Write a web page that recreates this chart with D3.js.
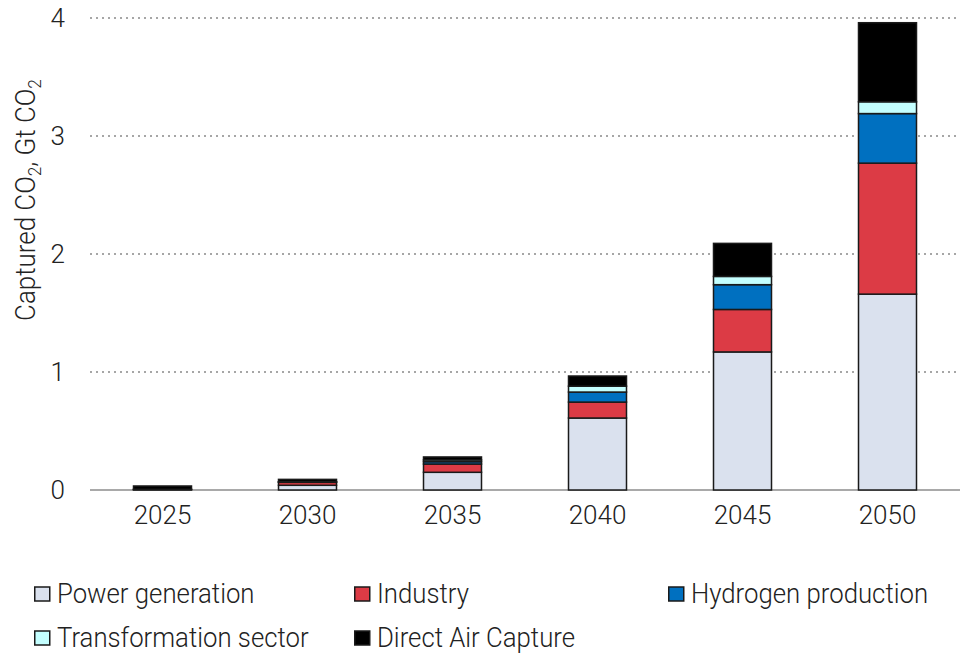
<!DOCTYPE html>
<html>
<head>
<meta charset="utf-8">
<script src="https://cdn.jsdelivr.net/npm/d3@7"></script>
<style>
  html, body { margin: 0; padding: 0; background: #fff; }
  svg text { font-family: Roboto, "Liberation Sans", sans-serif; font-weight: 300; fill: #222; }
</style>
</head>
<body>
<svg id="chart" width="960" height="655"></svg>
<script>
// Captured CO2 by source, Gt CO2
const years = ["2025", "2030", "2035", "2040", "2045", "2050"];
const powerGeneration     = [0.004, 0.040, 0.150, 0.610, 1.170, 1.660];
const industry            = [0.002, 0.025, 0.070, 0.135, 0.360, 1.110];
const hydrogenProduction  = [0.000, 0.003, 0.020, 0.085, 0.210, 0.420];
const transformation      = [0.000, 0.002, 0.015, 0.050, 0.070, 0.100];
const directAirCapture    = [0.028, 0.020, 0.025, 0.086, 0.280, 0.670];
const yTicks = [0, 1, 2, 3, 4];

const series = [
  { key: "power", label: "Power generation", color: "#dae1ee", values: powerGeneration },
  { key: "industry", label: "Industry", color: "#dc3b45", values: industry },
  { key: "hydrogen", label: "Hydrogen production", color: "#0070c0", values: hydrogenProduction },
  { key: "transformation", label: "Transformation sector", color: "#c4ffff", values: transformation },
  { key: "dac", label: "Direct Air Capture", color: "#000000", values: directAirCapture }
];

const rows = years.map((yr, i) => {
  const r = { year: yr };
  series.forEach(s => { r[s.key] = s.values[i]; });
  return r;
});

const svg = d3.select("#chart");
const plotLeft = 90, plotRight = 960, plotTop = 18, plotBottom = 490;

const x = d3.scaleBand().domain(years).range([plotLeft, plotRight]).paddingInner(0.6).paddingOuter(0.3);
const y = d3.scaleLinear().domain([0, 4]).range([plotBottom, plotTop]);

// dotted gridlines
svg.append("g")
  .selectAll("line")
  .data(yTicks.filter(t => t > 0))
  .join("line")
  .attr("x1", plotLeft).attr("x2", plotRight)
  .attr("y1", d => y(d)).attr("y2", d => y(d))
  .attr("stroke", "#a6a6a6")
  .attr("stroke-width", 2)
  .attr("stroke-dasharray", "2,4");

// baseline
svg.append("line")
  .attr("x1", plotLeft).attr("x2", plotRight)
  .attr("y1", y(0)).attr("y2", y(0))
  .attr("stroke", "#8c8c8c")
  .attr("stroke-width", 1.5);

// y tick labels
svg.append("g")
  .selectAll("text")
  .data(yTicks)
  .join("text")
  .attr("x", 65)
  .attr("y", d => y(d) + 9)
  .attr("text-anchor", "end")
  .attr("font-size", 26)
  .text(d => d);

// stacked bars
const stacked = d3.stack().keys(series.map(s => s.key))(rows);
svg.append("g")
  .selectAll("g")
  .data(stacked)
  .join("g")
  .attr("fill", (d, i) => series[i].color)
  .selectAll("rect")
  .data(d => d)
  .join("rect")
  .attr("x", d => x(d.data.year))
  .attr("width", x.bandwidth())
  .attr("y", d => y(d[1]))
  .attr("height", d => Math.max(0, y(d[0]) - y(d[1])))
  .attr("stroke", "#1a1a1a")
  .attr("stroke-width", 1.5);

// x tick labels
svg.append("g")
  .selectAll("text")
  .data(years)
  .join("text")
  .attr("x", d => x(d) + x.bandwidth() / 2)
  .attr("y", 524)
  .attr("text-anchor", "middle")
  .attr("font-size", 26)
  .text(d => d);

// y axis title with subscripts
const yt = svg.append("text")
  .attr("transform", "translate(35,200) rotate(-90) scale(0.96,1)")
  .attr("text-anchor", "middle")
  .attr("font-size", 27);
yt.append("tspan").text("Captured CO");
yt.append("tspan").attr("font-size", 18).attr("dy", 6).text("2");
yt.append("tspan").attr("dy", -6).text(", Gt CO");
yt.append("tspan").attr("font-size", 18).attr("dy", 6).text("2");

// legend
const legendPos = [
  { x: 34, y: 603 }, { x: 354, y: 603 }, { x: 668, y: 603 },
  { x: 34, y: 647 }, { x: 354, y: 647 }
];
const lg = svg.append("g")
  .selectAll("g")
  .data(series)
  .join("g")
  .attr("transform", (d, i) => `translate(${legendPos[i].x},${legendPos[i].y})`);
lg.append("rect")
  .attr("x", 0.75).attr("y", -16)
  .attr("width", 15).attr("height", 14)
  .attr("fill", d => d.color)
  .attr("stroke", "#1a1a1a")
  .attr("stroke-width", 1.5);
lg.append("text")
  .attr("transform", "translate(23,0) scale(0.92,1)")
  .attr("font-size", 28)
  .text(d => d.label);
</script>
</body>
</html>
